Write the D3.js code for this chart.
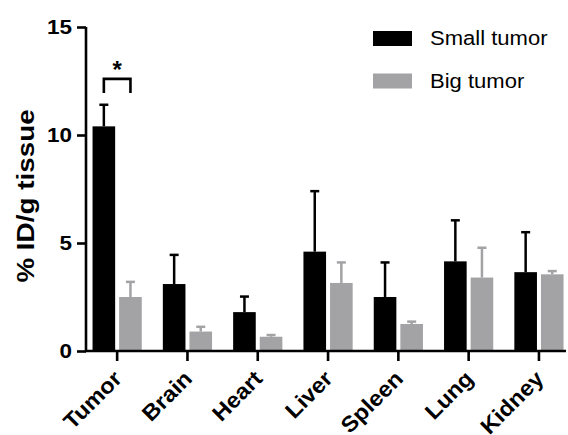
<!DOCTYPE html>
<html>
<head>
<meta charset="utf-8">
<script src="https://cdn.jsdelivr.net/npm/d3@7"></script>
<style>
  body { margin: 0; background: #fff; }
  svg { display: block; font-family: "Liberation Sans", Arial, sans-serif; }
</style>
</head>
<body>
<svg id="chart" width="568" height="435"></svg>
<script>
// Biodistribution: % ID/g tissue per organ
const organs = ["Tumor", "Brain", "Heart", "Liver", "Spleen", "Lung", "Kidney"];
const seriesNames = ["Small tumor", "Big tumor"];
const smallMean = [10.4, 3.1, 1.8, 4.6, 2.5, 4.15, 3.65];
const smallErr  = [1.0, 1.35, 0.72, 2.8, 1.6, 1.9, 1.85];
const bigMean   = [2.5, 0.9, 0.66, 3.15, 1.25, 3.4, 3.55];
const bigErr    = [0.7, 0.22, 0.08, 0.95, 0.11, 1.38, 0.15];
const yTicks = [0, 5, 10, 15];
const colors = ["#000000", "#a3a3a6"];

const svg = d3.select("#chart");

// Widen text runs slightly along their baseline
function widen(sel, k) {
  sel.each(function () {
    const len = this.getComputedTextLength();
    d3.select(this).attr("textLength", len * k).attr("lengthAdjust", "spacingAndGlyphs");
  });
}

const x = d3.scaleBand().domain(organs)
  .range([82, 82 + 70.3 * organs.length]).paddingInner(0.3).paddingOuter(0.15);
const y = d3.scaleLinear().domain([0, 15]).range([351, 27]);
const xSub = d3.scaleBand().domain([0, 1]).range([0, x.bandwidth()]).paddingInner(0.15);

const series = [
  { name: seriesNames[0], mean: smallMean, err: smallErr, color: colors[0] },
  { name: seriesNames[1], mean: bigMean, err: bigErr, color: colors[1] }
];

// Bars and upward error bars
series.forEach((s, si) => {
  const g = svg.append("g");
  organs.forEach((o, i) => {
    const bx = x(o) + xSub(si);
    const bw = xSub.bandwidth();
    const cx = bx + bw / 2;
    g.append("rect")
      .attr("x", bx).attr("y", y(s.mean[i]))
      .attr("width", bw).attr("height", y(0) - y(s.mean[i]))
      .attr("fill", s.color);
    const top = y(s.mean[i] + s.err[i]);
    g.append("line")
      .attr("x1", cx).attr("x2", cx)
      .attr("y1", y(s.mean[i])).attr("y2", top)
      .attr("stroke", s.color).attr("stroke-width", 2.5);
    g.append("line")
      .attr("x1", cx - 4.5).attr("x2", cx + 4.5)
      .attr("y1", top).attr("y2", top)
      .attr("stroke", s.color).attr("stroke-width", 2.5);
  });
});

// Y axis
const yAxis = svg.append("g")
  .attr("transform", "translate(86,0)")
  .call(d3.axisLeft(y).tickValues(yTicks).tickSize(9).tickPadding(5).tickFormat(d3.format("d")));
yAxis.select(".domain").attr("stroke", "#000").attr("stroke-width", 2.6)
  .attr("d", `M0,${y(15)}V${y(0)}`);
yAxis.selectAll(".tick line").attr("stroke", "#000").attr("stroke-width", 2.6);
yAxis.selectAll(".tick text")
  .attr("font-size", 21).attr("font-weight", "bold").attr("fill", "#000")
  .attr("font-family", "Liberation Sans, Arial, sans-serif")
  .call(widen, 1.07);

// X axis
const xAxis = svg.append("g")
  .attr("transform", `translate(0,${y(0)})`)
  .call(d3.axisBottom(x).tickSize(10).tickSizeOuter(0));
xAxis.select(".domain").attr("stroke", "#000").attr("stroke-width", 2.6)
  .attr("d", `M85,0H566`);
xAxis.selectAll(".tick line").attr("stroke", "#000").attr("stroke-width", 2.6);
xAxis.selectAll(".tick text")
  .attr("font-size", 22).attr("font-weight", "bold").attr("fill", "#000")
  .attr("font-family", "Liberation Sans, Arial, sans-serif")
  .attr("text-anchor", "end")
  .attr("dy", null).attr("y", 0)
  .attr("transform", "translate(6,29) rotate(-45)")
  .call(widen, 1.07);

// Y axis title
svg.append("text")
  .attr("transform", `translate(34,196) rotate(-90)`)
  .attr("text-anchor", "middle")
  .attr("font-size", 24).attr("font-weight", "bold")
  .text("% ID/g tissue")
  .call(widen, 1.16);

// Significance bracket over Tumor
const t0 = x("Tumor");
const c1 = t0 + xSub(0) + xSub.bandwidth() / 2;
const c2 = t0 + xSub(1) + xSub.bandwidth() / 2;
const by = y(12.6), bl = y(11.95);
svg.append("path")
  .attr("d", `M${c1},${bl}V${by}H${c2}V${bl}`)
  .attr("fill", "none").attr("stroke", "#000").attr("stroke-width", 2.6);
svg.append("text")
  .attr("x", (c1 + c2) / 2).attr("y", by - 1)
  .attr("text-anchor", "middle")
  .attr("font-size", 24).attr("font-weight", "bold")
  .text("*");

// Legend
const leg = svg.append("g").attr("transform", "translate(373,31)");
series.forEach((s, i) => {
  const row = leg.append("g").attr("transform", `translate(0,${i * 42.5})`);
  row.append("rect").attr("width", 39).attr("height", 15).attr("fill", s.color);
  row.append("text").attr("x", 57).attr("y", 14)
    .attr("font-size", 19.5).attr("fill", "#000").text(s.name)
    .call(widen, 1.13);
});
</script>
</body>
</html>
